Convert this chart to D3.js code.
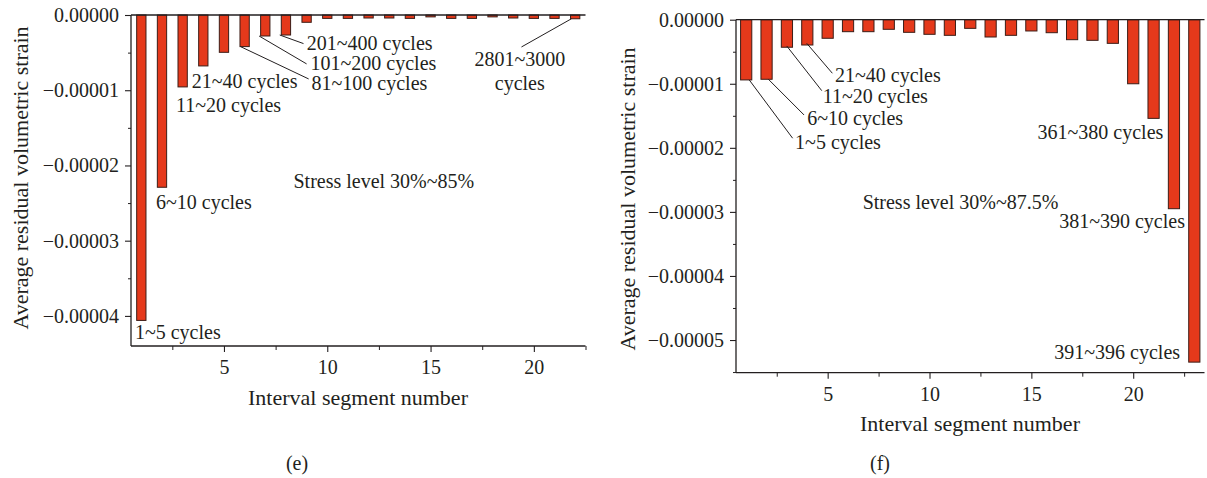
<!DOCTYPE html>
<html>
<head>
<meta charset="utf-8">
<script src="https://cdn.jsdelivr.net/npm/d3@7/dist/d3.min.js"></script>
<style>
  html, body { margin: 0; padding: 0; background: #fff; }
  svg { display: block; }
  text { font-family: "Liberation Serif", "Times New Roman", serif; fill: #231f20; }
</style>
</head>
<body>
<svg id="chart" width="1207" height="478"></svg>
<script>
// ---------- DATA ----------
// Panel (e): stress level 30%~85%, 22 interval segments
const segmentsE = d3.range(1, 23);
const strainE = [-4.06e-5, -2.29e-5, -0.956e-5, -0.677e-5, -0.496e-5, -0.42e-5, -0.279e-5, -0.266e-5,
  -0.097e-5, -0.045e-5, -0.045e-5, -0.04e-5, -0.04e-5, -0.045e-5, -0.025e-5, -0.045e-5,
  -0.045e-5, -0.025e-5, -0.04e-5, -0.045e-5, -0.045e-5, -0.05e-5];
// Panel (f): stress level 30%~87.5%, 23 interval segments
const segmentsF = d3.range(1, 24);
const strainF = [-0.94e-5, -0.93e-5, -0.43e-5, -0.395e-5, -0.29e-5, -0.187e-5, -0.187e-5, -0.15e-5,
  -0.197e-5, -0.228e-5, -0.244e-5, -0.135e-5, -0.27e-5, -0.244e-5, -0.176e-5, -0.203e-5,
  -0.312e-5, -0.322e-5, -0.369e-5, -1.0e-5, -1.54e-5, -2.95e-5, -5.345e-5];

const yTicksE = [0, -1e-5, -2e-5, -3e-5, -4e-5];
const yTicksF = [0, -1e-5, -2e-5, -3e-5, -4e-5, -5e-5];
const xTicks = [5, 10, 15, 20];

const annotationsE = [
  { text: "1~5 cycles", x: 0.69, y: -4.22e-5, anchor: "start" },
  { text: "6~10 cycles", x: 1.71, y: -2.48e-5, anchor: "start" },
  { text: "11~20 cycles", x: 2.68, y: -1.195e-5, anchor: "start" },
  { text: "21~40 cycles", x: 3.44, y: -0.876e-5, anchor: "start" },
  { text: "81~100 cycles", x: 9.24, y: -0.905e-5, anchor: "start", line: [5.8, -0.42e-5, 9.1, -0.85e-5] },
  { text: "101~200 cycles", x: 9.19, y: -0.637e-5, anchor: "start", line: [6.7, -0.279e-5, 9.0, -0.65e-5] },
  { text: "201~400 cycles", x: 9.01, y: -0.372e-5, anchor: "start", line: [7.7, -0.266e-5, 8.85, -0.38e-5] },
  { text: "2801~3000", x: 19.32, y: -0.584e-5, anchor: "middle" },
  { text: "cycles", x: 19.32, y: -0.903e-5, anchor: "middle", line: [19.4, -0.425e-5, 21.82, -0.05e-5] },
  { text: "Stress level 30%~85%", x: 12.74, y: -2.20e-5, anchor: "middle" }
];
const annotationsF = [
  { text: "21~40 cycles", x: 5.36, y: -0.863e-5, anchor: "start", line: [3.97, -0.368e-5, 5.23, -0.836e-5] },
  { text: "11~20 cycles", x: 4.76, y: -1.186e-5, anchor: "start", line: [2.99, -0.41e-5, 4.71, -1.108e-5] },
  { text: "6~10 cycles", x: 4.0, y: -1.529e-5, anchor: "start", line: [2.09, -0.93e-5, 3.84, -1.487e-5] },
  { text: "1~5 cycles", x: 3.4, y: -1.903e-5, anchor: "start", line: [1.15, -0.94e-5, 3.28, -1.85e-5] },
  { text: "361~380 cycles", x: 21.48, y: -1.757e-5, anchor: "end" },
  { text: "381~390 cycles", x: 22.54, y: -3.14e-5, anchor: "end" },
  { text: "391~396 cycles", x: 22.3, y: -5.19e-5, anchor: "end" },
  { text: "Stress level 30%~87.5%", x: 16.33, y: -2.84e-5, anchor: "end" }
];

// ---------- DRAW ----------
const svg = d3.select("#chart");
const BAR_FILL = "#e5391b";
const BAR_STROKE = "#3b1d17";
const INK = "#231f20";

function fmt(v) {
  if (v === 0) return "0.00000";
  return "\u2212" + Math.abs(v).toFixed(5);
}

function panel(cfg) {
  const g = svg.append("g");
  const x = d3.scaleLinear().domain(cfg.xDomain).range([cfg.left, cfg.right]);
  const y = d3.scaleLinear().domain(cfg.yDomain).range([cfg.bottom, cfg.top]);

  // bars
  g.append("g").selectAll("rect").data(cfg.segments.map((s, i) => ({ s, v: cfg.values[i] })))
    .join("rect")
    .attr("x", d => x(d.s - cfg.barW / 2))
    .attr("width", d => x(d.s + cfg.barW / 2) - x(d.s - cfg.barW / 2))
    .attr("y", y(0))
    .attr("height", d => y(d.v) - y(0))
    .attr("fill", BAR_FILL)
    .attr("stroke", BAR_STROKE)
    .attr("stroke-width", 1);

  // zero line across top
  g.append("line")
    .attr("x1", x(cfg.xDomain[0])).attr("x2", x(cfg.xDomain[1]))
    .attr("y1", y(0)).attr("y2", y(0))
    .attr("stroke", INK).attr("stroke-width", 1.3);

  // y axis
  const yAxis = d3.axisLeft(y).tickValues(cfg.yTicks).tickFormat(fmt).tickSize(6).tickPadding(6);
  const ya = g.append("g").attr("transform", `translate(${cfg.left},0)`).call(yAxis);
  const yMinor = d3.axisLeft(y).tickValues(cfg.yTicks.map(t => t - 0.5e-5).filter(t => t > cfg.yDomain[0])).tickFormat("").tickSize(3);
  g.append("g").attr("transform", `translate(${cfg.left},0)`).call(yMinor).select(".domain").remove();

  // x axis
  const xAxis = d3.axisBottom(x).tickValues(xTicks).tickSize(6).tickPadding(8);
  const xa = g.append("g").attr("transform", `translate(0,${cfg.bottom})`).call(xAxis);
  const xMinorVals = d3.range(2.5, cfg.xDomain[1] + 0.01, 5);
  const xMinor = d3.axisBottom(x).tickValues(xMinorVals).tickFormat("").tickSize(4);
  g.append("g").attr("transform", `translate(0,${cfg.bottom})`).call(xMinor).select(".domain").remove();

  [ya, xa].forEach(a => {
    a.select(".domain").attr("stroke", INK).attr("stroke-width", 1.3);
    a.selectAll(".tick line").attr("stroke", INK).attr("stroke-width", 1.1);
    a.selectAll("text").style("font-family", '"Liberation Serif", serif').style("font-size", "20px").attr("fill", INK);
  });
  g.selectAll(".tick line").attr("stroke", INK);
  ya.select(".domain").attr("d", `M0,${y(0)}V${cfg.bottom}`);
  xa.select(".domain").attr("d", `M${cfg.left},0H${cfg.right}`);

  // axis titles
  g.append("text")
    .attr("transform", `translate(${cfg.yTitleX},${cfg.yTitleY}) rotate(-90)`)
    .attr("text-anchor", "middle").attr("dominant-baseline", "central")
    .style("font-size", "22px").text("Average residual volumetric strain");
  g.append("text")
    .attr("x", cfg.xTitleX).attr("y", cfg.xTitleY)
    .attr("text-anchor", "middle").attr("dominant-baseline", "central")
    .style("font-size", "22px").text("Interval segment number");
  g.append("text")
    .attr("x", cfg.capX).attr("y", cfg.capY)
    .attr("text-anchor", "middle").attr("dominant-baseline", "central")
    .style("font-size", "20px").text(cfg.caption);

  // annotations
  cfg.annotations.forEach(a => {
    if (a.line) {
      g.append("line")
        .attr("x1", x(a.line[0])).attr("y1", y(a.line[1]))
        .attr("x2", x(a.line[2])).attr("y2", y(a.line[3]))
        .attr("stroke", INK).attr("stroke-width", 1);
    }
    g.append("text")
      .attr("x", x(a.x)).attr("y", y(a.y))
      .attr("text-anchor", a.anchor).attr("dominant-baseline", "central")
      .style("font-size", "20px").text(a.text);
  });
}

panel({
  segments: segmentsE, values: strainE, yTicks: yTicksE, annotations: annotationsE,
  xDomain: [0.5, 22.5], yDomain: [-4.4e-5, 0],
  left: 131, right: 585.5, top: 15, bottom: 346, barW: 0.45,
  yTitleX: 20, yTitleY: 178, xTitleX: 358, xTitleY: 397, capX: 297, capY: 463, caption: "(e)"
});
panel({
  segments: segmentsF, values: strainF, yTicks: yTicksF, annotations: annotationsF,
  xDomain: [0.5, 23.5], yDomain: [-5.51e-5, 0],
  left: 736, right: 1204.5, top: 19.7, bottom: 372.7, barW: 0.55,
  yTitleX: 627, yTitleY: 199, xTitleX: 970, xTitleY: 423, capX: 880, capY: 463, caption: "(f)"
});
</script>
</body>
</html>
